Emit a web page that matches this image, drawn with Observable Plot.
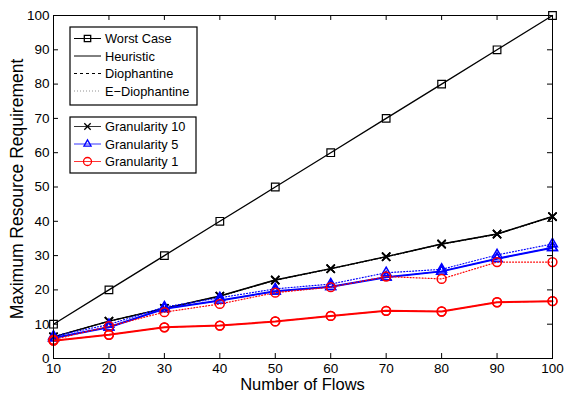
<!DOCTYPE html>
<html><head><meta charset="utf-8">
<script src="https://cdn.jsdelivr.net/npm/d3@7"></script>
<script src="https://cdn.jsdelivr.net/npm/@observablehq/plot@0.6"></script>
<style>html,body{margin:0;padding:0;background:#fff} svg{display:block}</style>
</head><body><div id="chart"></div>
<script>
// ---- data ----
const flows = [10, 20, 30, 40, 50, 60, 70, 80, 90, 100];
const xTicks = [10, 20, 30, 40, 50, 60, 70, 80, 90, 100];
const yTicks = [0, 10, 20, 30, 40, 50, 60, 70, 80, 90, 100];
const worstCase = [10, 20, 30, 40, 50, 60, 70, 80, 90, 100];
const g10Heuristic = [6.3, 10.9, 14.6, 18.2, 22.9, 26.2, 29.7, 33.4, 36.3, 41.4];
const g10Diophantine = [6.3, 10.9, 14.6, 18.2, 22.9, 26.2, 29.7, 33.4, 36.3, 41.4];
const g10EDiophantine = [6.3, 10.8, 14.6, 18.1, 22.8, 26.1, 29.6, 33.3, 36.2, 41.3];
const g5Heuristic = [6.0, 9.1, 14.5, 16.9, 19.6, 20.9, 23.7, 25.4, 29.1, 32.3];
const g5Diophantine = [6.0, 9.1, 14.5, 16.9, 19.6, 20.9, 23.7, 25.4, 29.1, 32.3];
const g5EDiophantine = [6.5, 9.9, 15.0, 17.7, 20.3, 21.7, 25.0, 26.0, 30.2, 33.4];
const g1Heuristic = [5.2, 6.9, 9.1, 9.6, 10.8, 12.4, 13.9, 13.7, 16.4, 16.7];
const g1Diophantine = [5.2, 6.9, 9.1, 9.6, 10.8, 12.4, 13.9, 13.7, 16.4, 16.7];
const g1EDiophantine = [5.5, 9.4, 13.5, 15.9, 19.2, 20.8, 23.9, 23.2, 28.1, 28.1];

const legendMethods = ["Worst Case", "Heuristic", "Diophantine", "E\u2212Diophantine"];
const legendGranularity = ["Granularity 10", "Granularity 5", "Granularity 1"];

// ---- styles ----
const FONT = "'Liberation Sans', Arial, Helvetica, sans-serif";
const BLACK = "#000000", BLUE = "#0000ff", RED = "#ff0000";
const DASH = "5,3", DOT = "1,2";

const series = [
  {values: worstCase, color: BLACK, dash: null, sw: 1.3, symbol: "square", r: 4.3},
  {values: g10Heuristic, color: BLACK, dash: null, sw: 1.5, symbol: "times", r: 3.8},
  {values: g10Diophantine, color: BLACK, dash: DASH, sw: 1, symbol: "times", r: 3.8},
  {values: g10EDiophantine, color: BLACK, dash: DOT, sw: 1, symbol: "times", r: 3.8},
  {values: g5Heuristic, color: BLUE, dash: null, sw: 2, symbol: "triangle", r: 3.6},
  {values: g5Diophantine, color: BLUE, dash: DASH, sw: 1, symbol: "triangle", r: 3.6},
  {values: g5EDiophantine, color: BLUE, dash: DOT, sw: 1.2, symbol: "triangle", r: 3.6},
  {values: g1Heuristic, color: RED, dash: null, sw: 2, symbol: "circle", r: 4.4},
  {values: g1Diophantine, color: RED, dash: DASH, sw: 1, symbol: "circle", r: 4.4},
  {values: g1EDiophantine, color: RED, dash: DOT, sw: 1.2, symbol: "circle", r: 4.4}
];

const rows = s => flows.map((x, i) => ({x, y: s.values[i]}));

const marks = [];
// inward ticks (MATLAB style, all four sides)
const tx = 0.9, ty = 1.45;
marks.push(Plot.ruleX(xTicks, {x: d => d, y1: 0, y2: ty, stroke: BLACK, strokeWidth: 1}));
marks.push(Plot.ruleX(xTicks, {x: d => d, y1: 100, y2: 100 - ty, stroke: BLACK, strokeWidth: 1}));
marks.push(Plot.ruleY(yTicks, {y: d => d, x1: 10, x2: 10 + tx, stroke: BLACK, strokeWidth: 1}));
marks.push(Plot.ruleY(yTicks, {y: d => d, x1: 100, x2: 100 - tx, stroke: BLACK, strokeWidth: 1}));

for (const s of series) {
  marks.push(Plot.line(rows(s), {x: "x", y: "y", stroke: s.color, strokeWidth: s.sw,
    strokeDasharray: s.dash, strokeLinejoin: "round"}));
  marks.push(Plot.dot(rows(s), {x: "x", y: "y", stroke: s.color, fill: "none",
    symbol: s.symbol, r: s.r, strokeWidth: s.symbol === "square" ? 1.2 : 1.5}));
}
marks.push(Plot.frame({stroke: BLACK, strokeWidth: 1}));

const plot = Plot.plot({
  width: 570, height: 396,
  marginLeft: 53, marginRight: 18, marginTop: 15, marginBottom: 38,
  style: {fontFamily: FONT, fontSize: "13.5px", color: "#000", background: "#fff", overflow: "visible"},
  x: {domain: [10, 100], ticks: xTicks, tickSize: 0, tickPadding: 5, label: null, tickFormat: d => String(d)},
  y: {domain: [0, 100], ticks: yTicks, tickSize: 0, tickPadding: 4, label: null, tickFormat: d => String(d)},
  marks
});
document.getElementById("chart").appendChild(plot);

// ---- axis titles and legends ----
const svg = d3.select(plot);
svg.append("text").attr("x", 302.5).attr("y", 390).attr("text-anchor", "middle")
  .style("font-family", FONT).style("font-size", "16.5px").attr("fill", BLACK).text("Number of Flows");
svg.append("text").attr("transform", "translate(23,189) rotate(-90)").attr("text-anchor", "middle")
  .style("font-family", FONT).style("font-size", "17.5px").attr("fill", BLACK).text("Maximum Resource Requirement");

const symbolOf = {square: d3.symbolSquare, times: d3.symbolTimes, triangle: d3.symbolTriangle2, circle: d3.symbolCircle};

function legend(x, y, w, h, rowY0, step, entries) {
  const g = svg.append("g").attr("text-anchor", "start");
  g.append("rect").attr("x", x).attr("y", y).attr("width", w).attr("height", h)
    .attr("fill", "#fff").attr("stroke", BLACK).attr("stroke-width", 1.2);
  entries.forEach((e, i) => {
    const cy = rowY0 + i * step;
    g.append("line").attr("x1", x + 4).attr("x2", x + 31).attr("y1", cy).attr("y2", cy)
      .attr("stroke", e.color).attr("stroke-width", e.sw).attr("stroke-dasharray", e.dash);
    if (e.symbol) {
      g.append("path").attr("transform", `translate(${x + 17.5},${cy})`)
        .attr("d", d3.symbol(symbolOf[e.symbol], Math.PI * e.r * e.r)())
        .attr("fill", "none").attr("stroke", e.color).attr("stroke-width", 1.3);
    }
    g.append("text").attr("x", x + 35).attr("y", cy).attr("dy", "0.36em").attr("text-anchor", "start")
      .style("font-family", FONT).style("font-size", "12.8px").attr("fill", BLACK).text(e.label);
  });
}

legend(70, 27, 127, 78, 38.5, 17.5, [
  {label: legendMethods[0], color: BLACK, sw: 1, dash: null, symbol: "square", r: 3.6},
  {label: legendMethods[1], color: BLACK, sw: 1, dash: null},
  {label: legendMethods[2], color: BLACK, sw: 1, dash: "3,3"},
  {label: legendMethods[3], color: "#777", sw: 0.8, dash: "1,2"}
]);
legend(70, 117, 126, 56, 126.5, 17.5, [
  {label: legendGranularity[0], color: BLACK, sw: 0.8, dash: null, symbol: "times", r: 3},
  {label: legendGranularity[1], color: BLUE, sw: 0.8, dash: null, symbol: "triangle", r: 3.4},
  {label: legendGranularity[2], color: RED, sw: 0.8, dash: null, symbol: "circle", r: 4}
]);
</script>
</body></html>
